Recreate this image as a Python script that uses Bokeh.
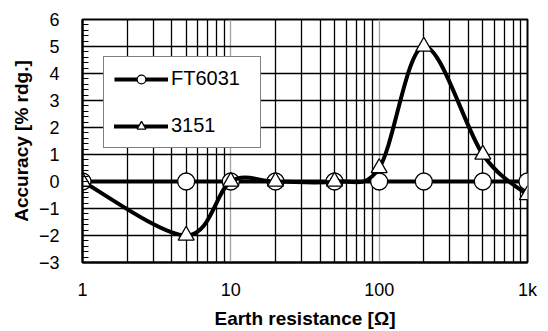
import numpy as np
from bokeh.plotting import figure
from bokeh.models import (ColumnDataSource, FixedTicker, Legend, LegendItem)
from bokeh.embed import file_html
from bokeh.resources import INLINE

# ---- data ----
resistance = [1, 5, 10, 20, 50, 100, 200, 500, 1000]
ft6031 = [0, 0, 0, 0, 0, 0, 0, 0, 0]
m3151 = [0, -2, 0, 0, 0, 0.5, 5, 1, -0.5]
x_ticks = [1, 10, 100, 1000]
x_tick_labels = {1: "1", 10: "10", 100: "100", 1000: "1k"}
y_ticks = [-3, -2, -1, 0, 1, 2, 3, 4, 5, 6]

FONT = "Liberation Sans"

p = figure(width=548, height=331, x_axis_type="log", x_range=(1, 1000),
           y_range=(-3, 6), output_backend="svg", toolbar_location=None,
           min_border_left=82, min_border_right=21, min_border_top=19,
           min_border_bottom=69)
p.background_fill_color = "white"
p.border_fill_color = "white"
p.outline_line_color = "black"
p.outline_line_width = 2

# ticks
x_minor = [m * d for d in (1, 10, 100) for m in range(2, 10)]
p.xaxis.ticker = FixedTicker(ticks=x_ticks, minor_ticks=x_minor)
p.xaxis.major_label_overrides = {k: v for k, v in x_tick_labels.items()}
y_minor = [round(v, 1) for v in np.arange(-3, 6.01, 0.2)]
p.yaxis.ticker = FixedTicker(ticks=y_ticks, minor_ticks=y_minor)

for ax in (p.xaxis, p.yaxis):
    ax.axis_line_color = "black"
    ax.axis_line_width = 2
    ax.major_label_text_font = FONT
    ax.major_label_text_font_size = "18px"
    ax.major_label_text_color = "black"
    ax.axis_label_text_font = FONT
    ax.axis_label_text_font_style = "bold"
    ax.axis_label_text_font_size = "19px"
    ax.axis_label_text_color = "black"

p.xaxis.major_tick_in = 0
p.xaxis.major_tick_out = 0
p.xaxis.minor_tick_in = 0
p.xaxis.minor_tick_out = 0
p.xaxis.major_label_standoff = 17
p.xaxis.axis_label = "Earth resistance [Ω]"
p.xaxis.axis_label_standoff = 5

p.yaxis.major_tick_in = 6
p.yaxis.major_tick_out = 0
p.yaxis.minor_tick_in = 6
p.yaxis.minor_tick_out = 0
p.yaxis.major_tick_line_color = "black"
p.yaxis.minor_tick_line_color = "black"
p.yaxis.major_label_standoff = 23
p.yaxis.axis_label = "Accuracy [% rdg.]"
p.yaxis.axis_label_standoff = 4

# grids
p.xgrid.grid_line_color = "#a0a0a0"
p.xgrid.grid_line_width = 1.3
p.xgrid.minor_grid_line_color = "black"
p.xgrid.minor_grid_line_width = 1.3
p.ygrid.grid_line_color = "black"
p.ygrid.grid_line_width = 1.3

# FT6031
src_ft = ColumnDataSource(dict(x=resistance, y=ft6031))
ft_line = p.line("x", "y", source=src_ft, line_color="black", line_width=4)
ft_mark = p.scatter("x", "y", source=src_ft, marker="circle", size=17,
                    fill_color="white", line_color="black", line_width=1.3)

# 3151 smoothed line (Catmull-Rom style bezier, in log-x space)
lx = np.log10(resistance)
yy = np.array(m3151, dtype=float)
n = len(lx)
x0, y0, x1, y1, cx0, cy0, cx1, cy1 = [], [], [], [], [], [], [], []
for i in range(n - 1):
    i0 = max(i - 1, 0)
    i3 = min(i + 2, n - 1)
    c1x = lx[i] + (lx[i + 1] - lx[i0]) / 6
    c1y = yy[i] + (yy[i + 1] - yy[i0]) / 6
    c2x = lx[i + 1] - (lx[i3] - lx[i]) / 6
    c2y = yy[i + 1] - (yy[i3] - yy[i]) / 6
    x0.append(10 ** lx[i]); y0.append(yy[i])
    x1.append(10 ** lx[i + 1]); y1.append(yy[i + 1])
    cx0.append(10 ** c1x); cy0.append(c1y)
    cx1.append(10 ** c2x); cy1.append(c2y)
src_bz = ColumnDataSource(dict(x0=x0, y0=y0, x1=x1, y1=y1,
                               cx0=cx0, cy0=cy0, cx1=cx1, cy1=cy1))
m_curve = p.bezier(x0="x0", y0="y0", x1="x1", y1="y1", cx0="cx0", cy0="cy0",
                   cx1="cx1", cy1="cy1", source=src_bz, line_color="black",
                   line_width=4, line_cap="round")
src_m = ColumnDataSource(dict(x=resistance, y=m3151))
m_mark = p.scatter("x", "y", source=src_m, marker="triangle", size=16,
                   fill_color="white", line_color="black", line_width=1.3)

legend = Legend(items=[
    LegendItem(label="FT6031", renderers=[ft_line, ft_mark]),
    LegendItem(label="3151", renderers=[m_curve, m_mark]),
], location=(21, 114))
legend.glyph_width = 54
legend.glyph_height = 22
legend.label_standoff = 3
legend.label_width = 79
legend.padding = 10
legend.spacing = 24
legend.margin = 0
legend.label_text_font = FONT
legend.label_text_font_size = "20px"
legend.label_text_color = "black"
legend.border_line_color = "black"
legend.border_line_width = 1.5
legend.background_fill_color = "white"
legend.background_fill_alpha = 1
p.add_layout(legend, "center")

open("out.html", "w").write(file_html(p, INLINE))
